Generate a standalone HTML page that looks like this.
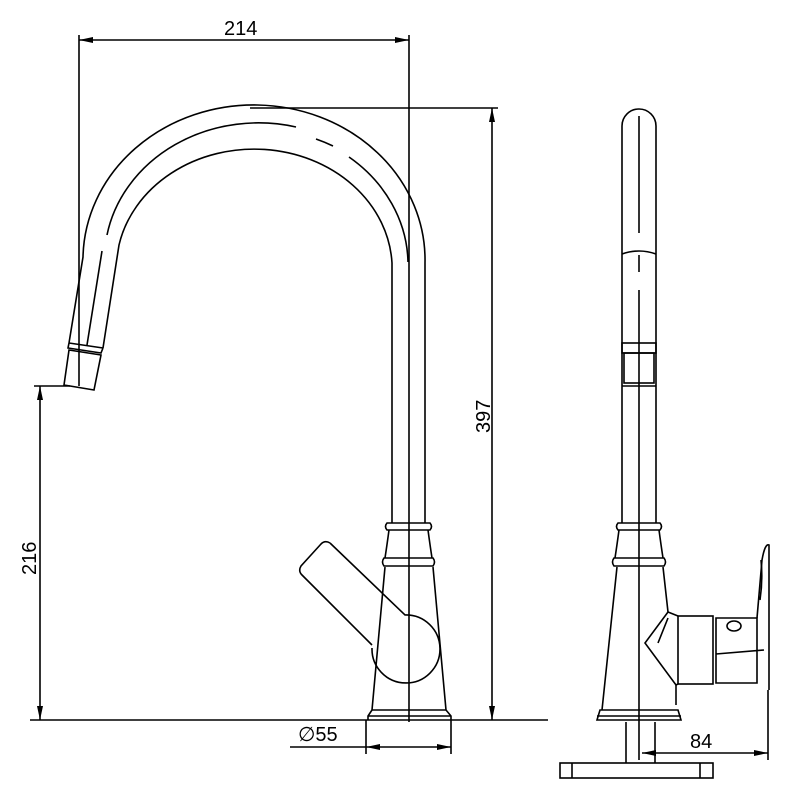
<!DOCTYPE html>
<html><head><meta charset="utf-8"><style>
html,body{margin:0;padding:0;background:#fff}
svg{display:block}
text{font-family:"Liberation Sans",Arial,sans-serif;font-size:20px;fill:#000}
</style></head><body>
<svg width="800" height="800" viewBox="0 0 800 800" xmlns="http://www.w3.org/2000/svg">
<defs>
<marker id="a" markerWidth="14" markerHeight="8" refX="14" refY="4" orient="auto-start-reverse" markerUnits="userSpaceOnUse"><path d="M0,1 L14,4 L0,7 Z" fill="#000"/></marker>
</defs>
<g fill="none" stroke="#000" stroke-width="1.6">
<line x1="79" y1="35" x2="79" y2="386"/>
<line x1="79" y1="40" x2="409" y2="40" marker-start="url(#a)" marker-end="url(#a)"/>
<line x1="409" y1="35" x2="409" y2="722"/>
<line x1="250" y1="108" x2="498" y2="108"/>
<line x1="492" y1="108" x2="492" y2="720" marker-start="url(#a)" marker-end="url(#a)"/>
<line x1="30" y1="720" x2="548" y2="720"/>
<line x1="34" y1="386" x2="70" y2="386"/>
<line x1="40" y1="386" x2="40" y2="720" marker-start="url(#a)" marker-end="url(#a)"/>
<path d="M425,523 L425,263 A171,155 0 0 0 83,257 L69,343"/>
<path d="M392,523 L392,263 A138,120 0 0 0 119,245 L103,348"/>
<path d="M107,235 A154,137 0 0 1 296,127" />
<path d="M316,139 A154,137 0 0 1 333,146" />
<path d="M349,157 A154,137 0 0 1 408,262" />
<line x1="102" y1="251" x2="87" y2="345"/>
<path d="M69,343 L103,348 M69,343 L68,348 L101,353 L103,348"/>
<path d="M69,350 L101,355 L94,390 L64,385 Z"/>
<path d="M387,523 L430,523 Q433,526.5 430,530 L387,530 Q384,526.5 387,523 Z"/>
<path d="M389,530 Q387,545 385,558 M428,530 Q430,545 432,558"/>
<path d="M384,558 L433,558 Q436,562 433,566 L384,566 Q381,562 384,558 Z"/>
<path d="M385,567 L372,710 M433,567 L446,710"/>
<path d="M372,710 L446,710 L451,716 L451,720 M372,710 L368,716 L368,720 M368,716 L451,716"/>
<path d="M330,543 Q325,540 321,544 L301,566 Q298,571 302,575 L372,645"/>
<path d="M330,543 L405,615 A34,34 0 1 1 372,648"/>
<line x1="366" y1="720" x2="366" y2="754"/>
<line x1="451" y1="720" x2="451" y2="754"/>
<line x1="290" y1="747" x2="366" y2="747"/>
<line x1="366" y1="747" x2="451" y2="747" marker-start="url(#a)" marker-end="url(#a)"/>
<path d="M622,523 L622,126 A17,17 0 0 1 656,126 L656,523"/>
<path d="M622,254 Q639,248 656,254"/>
<line x1="639" y1="116" x2="639" y2="233"/>
<line x1="639" y1="255" x2="639" y2="272"/>
<line x1="639" y1="290" x2="639" y2="760"/>
<rect x="622" y="343" width="34" height="10"/>
<rect x="624" y="353" width="30" height="30"/>
<line x1="622" y1="386" x2="656" y2="386"/>
<path d="M618,523 L660,523 Q663,526.5 660,530 L618,530 Q615,526.5 618,523 Z"/>
<path d="M619,530 Q617,545 615,558 M659,530 Q661,545 663,558"/>
<path d="M614,558 L664,558 Q667,562 664,566 L614,566 Q611,562 614,558 Z"/>
<path d="M617,567 L602,710 M663,567 L668,612"/>
<path d="M600,710 L678,710 L681,720 L597,720 Z M597,716 L681,716"/>
<path d="M668,612 L645,643 L676,685 L678,684 M668,612 L678,616 M658,643 L668,618"/>
<path d="M676,685 L676,705"/>
<rect x="678" y="616" width="35" height="68"/>
<path d="M716,618 L757,618 L757,683 L716,683 Z M716,654 L764,650"/>
<path d="M757,618 L762,560 Q765,543 769,545 L769,690"/>
<path d="M760,600 Q763,580 761,560"/>
<ellipse cx="734" cy="626" rx="7" ry="5"/>
<line x1="626" y1="722" x2="626" y2="763"/>
<line x1="655" y1="722" x2="655" y2="763"/>
<rect x="560" y="763" width="153" height="15"/>
<line x1="572" y1="763" x2="572" y2="778"/>
<line x1="700" y1="763" x2="700" y2="778"/>
<line x1="768" y1="690" x2="768" y2="760"/>
<line x1="642" y1="753" x2="768" y2="753" marker-start="url(#a)" marker-end="url(#a)"/>
</g>
<text x="224" y="35">214</text>
<text x="0" y="0" transform="translate(490,433) rotate(-90)">397</text>
<text x="0" y="0" transform="translate(36,575) rotate(-90)">216</text>
<text x="298" y="741">∅55</text>
<text x="690" y="748">84</text>
</svg>
</body></html>
